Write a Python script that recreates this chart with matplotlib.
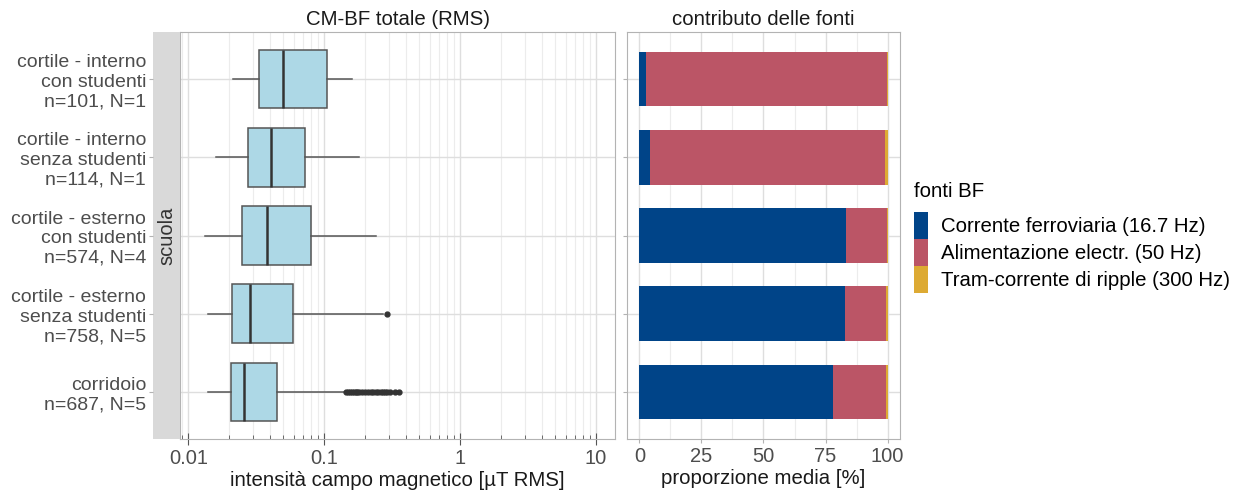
import matplotlib
matplotlib.use("Agg")
import matplotlib.pyplot as plt
from matplotlib.patches import Patch
from matplotlib.ticker import LogLocator, FixedLocator, NullFormatter, FixedFormatter

plt.rcParams['font.family'] = ['Liberation Sans', 'DejaVu Sans']

categories = [
    "cortile - interno\ncon studenti\nn=101, N=1",
    "cortile - interno\nsenza studenti\nn=114, N=1",
    "cortile - esterno\ncon studenti\nn=574, N=4",
    "cortile - esterno\nsenza studenti\nn=758, N=5",
    "corridoio\nn=687, N=5",
]
whis_lo = [0.0213, 0.0159, 0.0132, 0.0140, 0.0140]
q1 = [0.0330, 0.0272, 0.0246, 0.0210, 0.0206]
median = [0.0493, 0.0402, 0.0378, 0.0286, 0.0257]
q3 = [0.105, 0.0723, 0.0796, 0.0593, 0.0446]
whis_hi = [0.160, 0.1795, 0.242, 0.270, 0.1416]
outliers = [
    [],
    [],
    [],
    [0.290],
    [0.145, 0.15, 0.155, 0.16, 0.165, 0.17, 0.175, 0.18, 0.19, 0.20, 0.21,
     0.22, 0.23, 0.24, 0.25, 0.26, 0.27, 0.28, 0.29, 0.305, 0.33, 0.355],
]

source_names = ["Corrente ferroviaria (16.7 Hz)", "Alimentazione electr. (50 Hz)",
                "Tram-corrente di ripple (300 Hz)"]
source_colors = ["#004488", "#BB5566", "#DDAA33"]
rail = [2.6, 4.3, 83.2, 83.0, 78.2]
power = [97.0, 94.8, 16.4, 16.3, 21.1]
tram = [0.4, 0.9, 0.4, 0.7, 0.7]

W, H = 1239, 490
fig = plt.figure(figsize=(W / 100, H / 100), dpi=100)

def box(x0, y0, x1, y1):
    return [x0 / W, 1 - y1 / H, (x1 - x0) / W, (y1 - y0) / H]

ax1 = fig.add_axes(box(180, 32, 615, 439))
axs = fig.add_axes(box(153, 32, 180, 439), sharey=ax1)
ax2 = fig.add_axes(box(627, 32, 900, 439))

n = len(categories)
pos = list(range(n))
grid_major = "#dedede"
grid_minor = "#ececec"
border = "#b3b3b3"
tickcol = "#4d4d4d"
titlefs = 14.7

# ---------- left panel: boxplots ----------
stats = []
for i in range(n):
    stats.append(dict(med=median[i], q1=q1[i], q3=q3[i], whislo=whis_lo[i],
                      whishi=whis_hi[i], fliers=outliers[i]))
kw = dict(positions=pos, widths=0.75, patch_artist=True, showcaps=False,
          boxprops=dict(facecolor="#ADD8E6", edgecolor="#555555", linewidth=1.1),
          medianprops=dict(color="#333333", linewidth=1.8),
          whiskerprops=dict(color="#555555", linewidth=1.1),
          flierprops=dict(marker="o", markersize=3.5, markerfacecolor="#333333",
                          markeredgecolor="#333333"), zorder=3)
try:
    ax1.bxp(stats, orientation="horizontal", **kw)
except TypeError:
    ax1.bxp(stats, vert=False, **kw)

ax1.set_xscale("log")
ax1.set_xlim(0.00866, 13.8)
ax1.set_ylim(n - 0.4, -0.6)
ax1.xaxis.set_major_locator(FixedLocator([0.01, 0.1, 1, 10]))
ax1.xaxis.set_major_formatter(FixedFormatter(["0.01", "0.1", "1", "10"]))
ax1.xaxis.set_minor_locator(LogLocator(base=10, subs=range(2, 10), numticks=20))
ax1.xaxis.set_minor_formatter(NullFormatter())
ax1.grid(True, which="major", axis="x", color=grid_major, linewidth=1.0, zorder=0)
ax1.grid(True, which="minor", axis="x", color=grid_minor, linewidth=0.8, zorder=0)
ax1.grid(True, which="major", axis="y", color=grid_major, linewidth=1.0, zorder=0)
ax1.set_axisbelow(True)
ax1.tick_params(axis="x", which="major", direction="inout", length=8, color="#555555",
                labelsize=14.5, labelcolor=tickcol, pad=3)
ax1.tick_params(axis="x", which="minor", direction="in", length=3, color="#555555")
ax1.tick_params(axis="y", left=False, labelleft=False)
for s in ax1.spines.values():
    s.set_color(border)
ax1.set_title("CM-BF totale (RMS)", fontsize=titlefs, color="#1a1a1a", pad=5)
ax1.set_xlabel("intensità campo magnetico [µT RMS]", fontsize=titlefs, color="#1a1a1a",
               labelpad=2)

# ---------- strip ----------
axs.set_facecolor("#d9d9d9")
for s in axs.spines.values():
    s.set_visible(False)
axs.set_xticks([])
axs.set_yticks(pos)
axs.set_yticklabels(categories, fontsize=14, color=tickcol, ha="right")
axs.tick_params(axis="y", length=3, color=border, pad=2)
axs.text(0.5, 0.5, "scuola", rotation=90, ha="center", va="center",
         transform=axs.transAxes, fontsize=14.5, color="#333333")

# ---------- right panel: stacked bars ----------
left = [0.0] * n
for vals, name, col in zip([rail, power, tram], source_names, source_colors):
    ax2.barh(pos, vals, left=left, height=0.7, color=col, label=name, zorder=3)
    left = [a + b for a, b in zip(left, vals)]
ax2.set_xlim(-5, 105)
ax2.set_ylim(n - 0.4, -0.6)
ax2.set_xticks([0, 25, 50, 75, 100])
ax2.xaxis.set_minor_locator(FixedLocator([12.5, 37.5, 62.5, 87.5]))
ax2.grid(True, which="major", color=grid_major, linewidth=1.0, zorder=0)
ax2.grid(True, which="minor", axis="x", color=grid_minor, linewidth=0.8, zorder=0)
ax2.set_axisbelow(True)
ax2.set_yticks(pos)
ax2.set_yticklabels([])
ax2.tick_params(axis="y", length=3, color=border)
ax2.tick_params(axis="x", which="major", length=3, color=border, labelsize=14.5,
                labelcolor=tickcol, pad=3)
ax2.tick_params(axis="x", which="minor", length=0)
for s in ax2.spines.values():
    s.set_color(border)
ax2.set_title("contributo delle fonti", fontsize=titlefs, color="#1a1a1a", pad=5)
ax2.set_xlabel("proporzione media [%]", fontsize=titlefs, color="#1a1a1a", labelpad=2)

handles = [Patch(facecolor=c, edgecolor="none") for c in source_colors]
leg = fig.legend(handles, source_names, title="fonti BF", loc="upper left",
                 bbox_to_anchor=(910 / W, 1 - 178 / H), frameon=False,
                 fontsize=14.7, title_fontsize=14.7, handlelength=0.7,
                 handleheight=1.66, labelspacing=0.0, handletextpad=0.6,
                 borderaxespad=0, borderpad=0.2)
leg._legend_box.align = "left"
leg._legend_box.sep = 8

fig.savefig("out.png", dpi=100)
